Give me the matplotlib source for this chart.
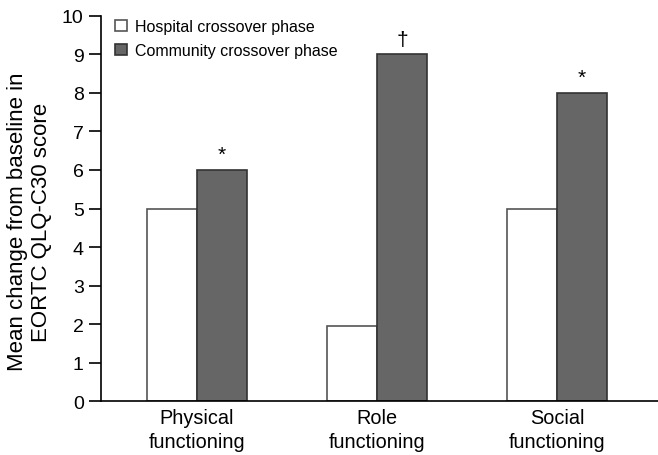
import matplotlib
matplotlib.use("Agg")
import matplotlib.pyplot as plt
import numpy as np

plt.rcParams['font.family'] = ['Liberation Sans', 'DejaVu Sans']

categories = ["Physical\nfunctioning", "Role\nfunctioning", "Social\nfunctioning"]
hospital = [5.0, 1.95, 5.0]
community = [6.0, 9.0, 8.0]
marks = ["*", "\u2020", "*"]


def main():
    fig = plt.figure(figsize=(6.58, 4.56), dpi=100)
    ax = fig.add_axes([0.1535, 0.118, 0.8465, 0.845])

    x = np.arange(len(categories))
    w = 0.278
    ax.bar(x - w / 2, hospital, w, color="white", edgecolor="#555555",
           linewidth=1.2, label="Hospital crossover phase")
    ax.bar(x + w / 2, community, w, color="#666666", edgecolor="#333333",
           linewidth=1.2, label="Community crossover phase")

    for xi, v, m in zip(x, community, marks):
        ax.text(xi + w / 2, v + 0.15, m, ha="center", va="bottom", fontsize=15)

    ax.set_xlim(-0.533, 2.56)
    ax.set_ylim(0, 10)
    ax.set_yticks(range(0, 11))
    ax.set_xticks(x)
    ax.set_xticklabels(categories, fontsize=14.3, linespacing=1.3)
    ax.tick_params(axis="x", length=0, pad=5)
    ax.tick_params(axis="y", labelsize=14, length=9, width=1.2, direction="out")
    ax.set_ylabel("Mean change from baseline in\nEORTC QLQ-C30 score",
                  fontsize=16, linespacing=1.2)
    ax.yaxis.set_label_coords(-0.088, 0.467)

    for s in ("top", "right"):
        ax.spines[s].set_visible(False)
    for s in ("left", "bottom"):
        ax.spines[s].set_linewidth(1.2)

    ax.legend(loc="upper left", bbox_to_anchor=(0.0, 1.03), frameon=False,
              fontsize=11.5, handlelength=0.7, handleheight=0.7,
              handletextpad=0.5, labelspacing=0.6)

    fig.savefig("out.png", dpi=100)


if __name__ == "__main__":
    main()
